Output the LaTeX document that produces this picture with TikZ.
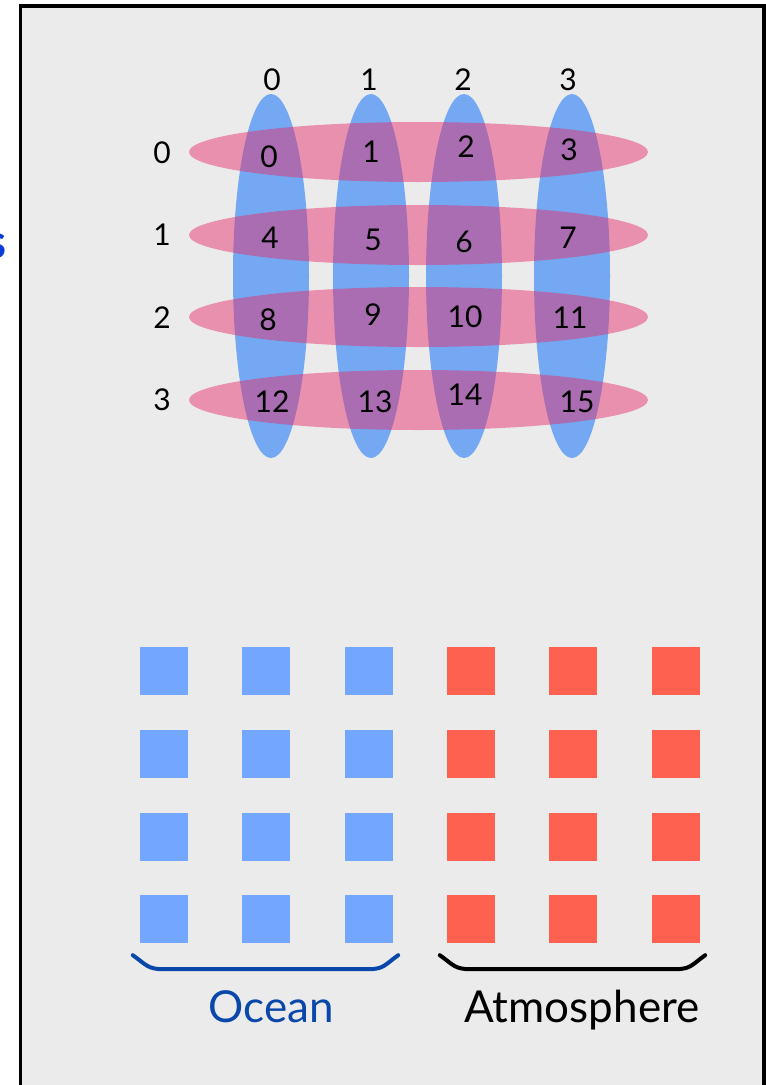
\documentclass[tikz,border=0pt]{standalone}
\usepackage{fontspec}
\setmainfont{Lato}
\usepackage{tikz}
\usetikzlibrary{shapes.geometric,calc}
\definecolor{panel}{HTML}{EBEBEB}
\definecolor{colblue}{HTML}{74A8F2}
\definecolor{rowpink}{RGB}{229,46,108}
\definecolor{ocean}{HTML}{73A7FF}
\definecolor{atmo}{HTML}{FF6150}
\definecolor{deep}{HTML}{0A47AA}
\definecolor{titleblue}{HTML}{0A3DDB}
\tikzset{
  colell/.style={ellipse,fill=colblue,inner sep=0pt,minimum width=76,minimum height=364},
  rowell/.style={ellipse,fill=rowpink,fill opacity=0.48,inner sep=0pt,minimum width=459,minimum height=60},
  num/.style={font=\fontsize{30}{34}\selectfont,inner sep=0pt},
  cell/.style={minimum size=48,inner sep=0pt},
  brace/.style={line width=4,line cap=round},
  lbl/.style={font=\fontsize{44}{50}\selectfont,inner sep=0pt,anchor=base},
}

\begin{document}
\begin{tikzpicture}[x=1pt,y=-1pt]
\useasboundingbox[fill=white] (0,0) rectangle (766,1085);
% panel
\draw[line width=3.5,fill=panel] (20.5,6) rectangle (764,1110);
\node[font=\fontsize{48}{52}\selectfont\bfseries,text=titleblue,anchor=base east,inner sep=0pt] (ttl) at (7,258) {s};

% partition ellipses
\node[colell] (col0) at (271,276) {};
\node[colell] (col1) at (371,276) {};
\node[colell] (col2) at (464,276) {};
\node[colell] (col3) at (572,276) {};
\node[rowell] (row0) at (418.5,152) {};
\node[rowell] (row1) at (418.5,235) {};
\node[rowell] (row2) at (418.5,317) {};
\node[rowell] (row3) at (418.5,400) {};

% indices
\foreach \i/\x in {0/272,1/369,2/463,3/568}
  \node[num] (ch\i) at (\x,80) {\i};
\foreach \i/\y in {0/153,1/235,2/318,3/400}
  \node[num] (rh\i) at (162,\y) {\i};
\foreach \n/\x/\y in {0/269/157,1/371/152,2/466/147,3/569/150,
                      4/270/238,5/373/240,6/464/242,7/568/238,
                      8/268/320,9/373/315,10/465/317,11/570/318,
                      12/272/402,13/375/402,14/465/395,15/577/402}
  \node[num] (c\n) at (\x,\y) {\n};

% processes
\foreach \r/\y in {0/671,1/754,2/837,3/919}{
  \foreach \k/\x in {0/164,1/266,2/369}
    \node[cell,fill=ocean] (oc-\r-\k) at (\x,\y) {};
  \foreach \k/\x in {0/471,1/573,2/676}
    \node[cell,fill=atmo] (at-\r-\k) at (\x,\y) {};
}

% braces
\draw[brace,deep] ($(oc-3-0.south west)+(-7,12)$) .. controls +(14,10) and +(-16,0) .. ++(31,14)
  -- ++(204,0) .. controls +(16,0) and +(-14,10) .. ($(oc-3-2.south east)+(5,12)$);
\draw[brace,black] ($(at-3-0.south west)+(-7,12)$) .. controls +(14,10) and +(-16,0) .. ++(31,14)
  -- ++(204,0) .. controls +(16,0) and +(-14,10) .. ($(at-3-2.south east)+(5,12)$);
\node[lbl,text=deep] (ocn) at (271,1022) {Ocean};
\node[lbl] (atm) at (582,1022) {Atmosphere};
\end{tikzpicture}
\end{document}
